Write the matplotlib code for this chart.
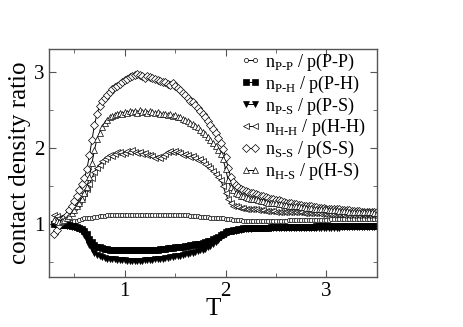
import numpy as np
import matplotlib
matplotlib.use("Agg")
import matplotlib.pyplot as plt
from matplotlib.ticker import MultipleLocator

plt.rcParams['font.family'] = ['Liberation Serif', 'DejaVu Serif']
plt.rcParams['mathtext.fontset'] = 'custom'
plt.rcParams['mathtext.rm'] = 'Liberation Serif'

# temperature grid (0.300 ... 3.500, step 0.025)
T = np.round(np.arange(0.30, 3.5001, 0.025), 3)

# contact density ratios
pp = [1.02, 1.01, 1.01, 1.01, 1.02, 1.02, 1.03, 1.03, 1.04, 1.04,
      1.05, 1.06, 1.07, 1.07, 1.08, 1.08, 1.09, 1.09, 1.10, 1.10,
      1.10, 1.11, 1.11, 1.11, 1.11, 1.12, 1.12, 1.12, 1.12, 1.12,
      1.12, 1.12, 1.12, 1.12, 1.12, 1.12, 1.12, 1.12, 1.12, 1.12,
      1.12, 1.12, 1.12, 1.12, 1.12, 1.12, 1.12, 1.11, 1.11, 1.11,
      1.11, 1.11, 1.11, 1.11, 1.10, 1.10, 1.10, 1.10, 1.09, 1.09,
      1.09, 1.09, 1.08, 1.08, 1.08, 1.07, 1.07, 1.07, 1.06, 1.06,
      1.06, 1.05, 1.05, 1.05, 1.05, 1.04, 1.04, 1.04, 1.04, 1.04,
      1.04, 1.04, 1.04, 1.04, 1.04, 1.04, 1.04, 1.04, 1.04, 1.04,
      1.04, 1.04, 1.04, 1.05, 1.05, 1.05, 1.05, 1.05, 1.05, 1.05,
      1.05, 1.05, 1.05, 1.05, 1.05, 1.05, 1.05, 1.05, 1.05, 1.05,
      1.06, 1.06, 1.06, 1.06, 1.06, 1.06, 1.06, 1.06, 1.06, 1.06,
      1.06, 1.06, 1.06, 1.06, 1.06, 1.06, 1.06, 1.06, 1.06]
ph = [1.00, 1.00, 0.99, 0.99, 0.99, 0.98, 0.98, 0.97, 0.97, 0.96,
      0.95, 0.93, 0.90, 0.86, 0.80, 0.76, 0.72, 0.70, 0.69, 0.68,
      0.67, 0.67, 0.66, 0.66, 0.65, 0.65, 0.65, 0.65, 0.65, 0.65,
      0.65, 0.65, 0.65, 0.65, 0.65, 0.65, 0.65, 0.66, 0.66, 0.66,
      0.66, 0.66, 0.67, 0.67, 0.67, 0.68, 0.68, 0.68, 0.69, 0.69,
      0.70, 0.70, 0.71, 0.71, 0.72, 0.72, 0.73, 0.74, 0.74, 0.75,
      0.76, 0.77, 0.78, 0.80, 0.81, 0.83, 0.85, 0.87, 0.89, 0.90,
      0.91, 0.92, 0.92, 0.93, 0.93, 0.94, 0.94, 0.94, 0.94, 0.95,
      0.95, 0.95, 0.95, 0.95, 0.95, 0.95, 0.96, 0.96, 0.96, 0.96,
      0.96, 0.96, 0.96, 0.96, 0.96, 0.96, 0.96, 0.96, 0.96, 0.96,
      0.96, 0.96, 0.96, 0.96, 0.97, 0.97, 0.97, 0.97, 0.97, 0.97,
      0.97, 0.97, 0.97, 0.97, 0.97, 0.97, 0.97, 0.97, 0.97, 0.97,
      0.97, 0.97, 0.97, 0.97, 0.97, 0.97, 0.97, 0.97, 0.97]
ps = [1.00, 1.00, 0.99, 0.98, 0.98, 0.97, 0.97, 0.96, 0.96, 0.95,
      0.93, 0.90, 0.85, 0.79, 0.72, 0.67, 0.62, 0.59, 0.57, 0.56,
      0.55, 0.54, 0.54, 0.53, 0.53, 0.52, 0.52, 0.52, 0.52, 0.51,
      0.51, 0.51, 0.51, 0.51, 0.51, 0.51, 0.52, 0.52, 0.52, 0.52,
      0.53, 0.53, 0.54, 0.54, 0.55, 0.55, 0.56, 0.56, 0.57, 0.57,
      0.58, 0.59, 0.60, 0.60, 0.61, 0.62, 0.63, 0.64, 0.65, 0.66,
      0.67, 0.69, 0.71, 0.73, 0.76, 0.79, 0.82, 0.85, 0.87, 0.89,
      0.90, 0.91, 0.91, 0.92, 0.92, 0.93, 0.93, 0.93, 0.93, 0.94,
      0.94, 0.94, 0.94, 0.94, 0.94, 0.94, 0.94, 0.94, 0.94, 0.94,
      0.94, 0.94, 0.94, 0.95, 0.95, 0.95, 0.95, 0.95, 0.95, 0.95,
      0.95, 0.95, 0.95, 0.95, 0.95, 0.95, 0.95, 0.95, 0.95, 0.95,
      0.95, 0.95, 0.95, 0.95, 0.96, 0.96, 0.96, 0.96, 0.96, 0.96,
      0.96, 0.96, 0.96, 0.96, 0.96, 0.96, 0.96, 0.96, 0.96]
hh = [1.12, 1.10, 1.08, 1.09, 1.10, 1.12, 1.15, 1.18, 1.22, 1.26,
      1.30, 1.35, 1.40, 1.46, 1.52, 1.60, 1.68, 1.74, 1.78, 1.82,
      1.85, 1.88, 1.90, 1.89, 1.92, 1.94, 1.95, 1.92, 1.93, 1.96,
      1.94, 1.97, 1.95, 1.93, 1.94, 1.92, 1.93, 1.91, 1.90, 1.89,
      1.87, 1.88, 1.86, 1.89, 1.92, 1.94, 1.96, 1.95, 1.96, 1.94,
      1.93, 1.91, 1.92, 1.90, 1.88, 1.89, 1.86, 1.84, 1.85, 1.82,
      1.79, 1.76, 1.73, 1.70, 1.66, 1.62, 1.57, 1.50, 1.40, 1.32,
      1.27, 1.24, 1.23, 1.22, 1.21, 1.21, 1.20, 1.20, 1.19, 1.19,
      1.19, 1.18, 1.18, 1.18, 1.17, 1.17, 1.17, 1.17, 1.16, 1.16,
      1.16, 1.16, 1.16, 1.15, 1.15, 1.15, 1.15, 1.15, 1.15, 1.14,
      1.14, 1.14, 1.14, 1.14, 1.14, 1.14, 1.13, 1.13, 1.13, 1.13,
      1.13, 1.13, 1.13, 1.13, 1.13, 1.12, 1.12, 1.12, 1.12, 1.12,
      1.12, 1.12, 1.12, 1.12, 1.12, 1.12, 1.11, 1.11, 1.11]
ss = [0.87, 0.92, 0.98, 1.03, 1.08, 1.12, 1.18, 1.24, 1.30, 1.36,
      1.45, 1.52, 1.60, 1.72, 1.90, 2.10, 2.30, 2.45, 2.55, 2.61,
      2.66, 2.70, 2.74, 2.77, 2.80, 2.82, 2.84, 2.87, 2.89, 2.91,
      2.93, 2.95, 2.96, 2.97, 2.96, 2.94, 2.92, 2.95, 2.93, 2.92,
      2.91, 2.89, 2.88, 2.86, 2.87, 2.84, 2.83, 2.85, 2.81, 2.79,
      2.76, 2.72, 2.69, 2.66, 2.62, 2.60, 2.56, 2.52, 2.48, 2.44,
      2.40, 2.35, 2.30, 2.25, 2.19, 2.13, 2.06, 1.98, 1.88, 1.74,
      1.62, 1.55, 1.51, 1.48, 1.46, 1.44, 1.43, 1.42, 1.41, 1.40,
      1.39, 1.38, 1.37, 1.36, 1.35, 1.34, 1.33, 1.32, 1.31, 1.31,
      1.30, 1.29, 1.28, 1.28, 1.27, 1.26, 1.26, 1.25, 1.25, 1.24,
      1.24, 1.23, 1.23, 1.22, 1.22, 1.21, 1.21, 1.21, 1.20, 1.20,
      1.20, 1.19, 1.19, 1.19, 1.18, 1.18, 1.18, 1.18, 1.17, 1.17,
      1.17, 1.17, 1.16, 1.16, 1.16, 1.16, 1.16, 1.15, 1.15]
hs = [1.05, 1.04, 1.03, 1.04, 1.05, 1.07, 1.10, 1.14, 1.18, 1.23,
      1.28, 1.33, 1.40, 1.48, 1.62, 1.80, 1.97, 2.12, 2.20, 2.27,
      2.33, 2.37, 2.40, 2.42, 2.43, 2.45, 2.46, 2.45, 2.47, 2.46,
      2.48, 2.47, 2.49, 2.46, 2.50, 2.47, 2.48, 2.46, 2.48, 2.47,
      2.46, 2.47, 2.45, 2.44, 2.45, 2.43, 2.44, 2.42, 2.43, 2.41,
      2.40, 2.38, 2.37, 2.35, 2.33, 2.31, 2.29, 2.27, 2.24, 2.21,
      2.18, 2.14, 2.10, 2.06, 2.02, 1.97, 1.92, 1.85, 1.72, 1.58,
      1.48, 1.44, 1.41, 1.39, 1.37, 1.36, 1.35, 1.34, 1.33, 1.33,
      1.32, 1.31, 1.30, 1.30, 1.29, 1.28, 1.28, 1.27, 1.27, 1.26,
      1.26, 1.25, 1.25, 1.24, 1.24, 1.23, 1.23, 1.23, 1.22, 1.22,
      1.21, 1.21, 1.21, 1.20, 1.20, 1.20, 1.19, 1.19, 1.19, 1.18,
      1.18, 1.18, 1.18, 1.17, 1.17, 1.17, 1.17, 1.16, 1.16, 1.16,
      1.16, 1.16, 1.15, 1.15, 1.15, 1.15, 1.15, 1.14, 1.14]

labels = [r'n$_{\mathrm{P\text{-}P}}$ / p(P-P)',
          r'n$_{\mathrm{P\text{-}H}}$ / p(P-H)',
          r'n$_{\mathrm{P\text{-}S}}$ / p(P-S)',
          r'n$_{\mathrm{H\text{-}H}}$ / p(H-H)',
          r'n$_{\mathrm{S\text{-}S}}$ / p(S-S)',
          r'n$_{\mathrm{H\text{-}S}}$ / p(H-S)']

fig = plt.figure(figsize=(4.63, 3.27), dpi=100)
ax = fig.add_axes([0.106, 0.153, 0.708, 0.697])

# (series, marker, filled, size)
styles = [(pp, 'o', False, 3.0),
          (ph, 's', True, 4.0),
          (ps, 'v', True, 4.4),
          (hh, '<', False, 4.6),
          (ss, 'D', False, 4.0),
          (hs, '^', False, 4.6)]

for (y, m, filled, ms), lab in zip(styles, labels):
    ax.plot(T, y, color='black', lw=0.7, marker=m, ms=ms, mew=0.5,
            mfc='black' if filled else 'white', mec='black', label=lab)

ax.set_xlim(0.25, 3.5)
ax.set_ylim(0.3, 3.3)
ax.xaxis.set_major_locator(MultipleLocator(1))
ax.xaxis.set_minor_locator(MultipleLocator(0.5))
ax.yaxis.set_major_locator(MultipleLocator(1))
ax.yaxis.set_minor_locator(MultipleLocator(0.5))
ax.tick_params(which='both', direction='in', top=True, right=True,
               labelsize=15, color='#555555')
ax.tick_params(which='major', length=5)
ax.tick_params(which='minor', length=3)
for sp in ax.spines.values():
    sp.set_color('#555555')
    sp.set_linewidth(1.0)

ax.set_xlabel('T', fontsize=18, labelpad=-2)
ax.set_ylabel('contact density ratio', fontsize=18, labelpad=2)

ax.legend(loc='upper right', bbox_to_anchor=(0.988, 1.02), frameon=False,
          fontsize=13, numpoints=2, handlelength=1.1, handletextpad=0.25,
          labelspacing=0.04, borderaxespad=0)

fig.savefig('out.png', dpi=100)
